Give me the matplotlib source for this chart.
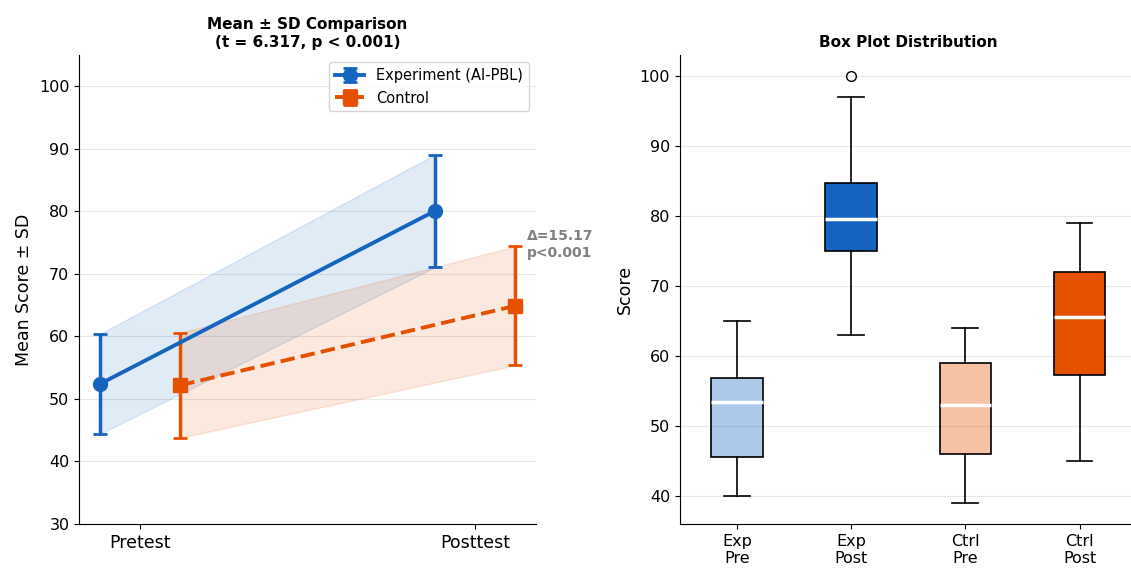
import matplotlib
matplotlib.use("Agg")
import matplotlib.pyplot as plt

# --- data ---
phases = ["Pretest", "Posttest"]
exp_mean = [52.4, 80.07]
exp_sd = [8.0, 9.0]
ctrl_mean = [52.2, 64.9]
ctrl_sd = [8.4, 9.5]

box_labels = ["Exp\nPre", "Exp\nPost", "Ctrl\nPre", "Ctrl\nPost"]
box_low = [40, 63, 39, 45]
box_q1 = [45.5, 75.0, 46.0, 57.2]
box_med = [53.4, 79.6, 53.0, 65.5]
box_q3 = [56.8, 84.7, 59.0, 72.0]
box_high = [65, 97, 64, 79]
box_fliers = [[], [100], [], []]

BLUE = "#1565C0"
ORANGE = "#E65100"
box_colors = [BLUE, BLUE, ORANGE, ORANGE]
box_alpha = [0.35, 1.0, 0.35, 1.0]

fig = plt.figure(figsize=(11.31, 5.68), dpi=100)
ax1 = fig.add_axes([0.070, 0.0775, 0.404, 0.8255])
ax2 = fig.add_axes([0.601, 0.0775, 0.404, 0.8255])

# --- left: mean +- sd ---
off = 0.12
xe = [i - off for i in range(len(phases))]
xc = [i + off for i in range(len(phases))]
ax1.fill_between(xe, [m - s for m, s in zip(exp_mean, exp_sd)],
                 [m + s for m, s in zip(exp_mean, exp_sd)], color=BLUE, alpha=0.13)
ax1.fill_between(xc, [m - s for m, s in zip(ctrl_mean, ctrl_sd)],
                 [m + s for m, s in zip(ctrl_mean, ctrl_sd)], color=ORANGE, alpha=0.13)
ax1.errorbar(xe, exp_mean, yerr=exp_sd, fmt="-o", color=BLUE, lw=2.8, ms=10,
             capsize=5, capthick=2, elinewidth=2.5, label="Experiment (AI-PBL)")
ax1.errorbar(xc, ctrl_mean, yerr=ctrl_sd, fmt="--s", color=ORANGE, lw=2.8, ms=10,
             capsize=5, capthick=2, elinewidth=2.5, label="Control")
delta = exp_mean[1] - ctrl_mean[1]
ax1.text(1 + off + 0.035, ctrl_mean[1] + ctrl_sd[1] + 0.3, f"Δ={delta:.2f}\np<0.001",
         color="gray", fontsize=10, fontweight="bold", va="center", ha="left")
ax1.set_xticks(range(len(phases)))
ax1.set_xticklabels(phases, fontsize=12.5)
ax1.set_ylim(30, 105)
ax1.set_ylabel("Mean Score ± SD", fontsize=12.5)
ax1.set_title("Mean ± SD Comparison\n(t = 6.317, p < 0.001)", fontsize=11, fontweight="bold")
ax1.legend(loc="upper right", fontsize=10.5)
ax1.tick_params(axis="y", labelsize=11.5)

# --- right: box plots ---
stats = []
for i in range(len(box_labels)):
    stats.append({"whislo": box_low[i], "q1": box_q1[i], "med": box_med[i],
                  "q3": box_q3[i], "whishi": box_high[i], "fliers": box_fliers[i]})
bp = ax2.bxp(stats, patch_artist=True,
             medianprops=dict(color="white", lw=2.5),
             boxprops=dict(lw=1.2), whiskerprops=dict(lw=1.2), capprops=dict(lw=1.2),
             flierprops=dict(marker="o", markerfacecolor="none", markeredgecolor="black", ms=7))
for patch, c, a in zip(bp["boxes"], box_colors, box_alpha):
    patch.set_facecolor(matplotlib.colors.to_rgba(c, a))
    patch.set_edgecolor("black")
ax2.set_xticks(range(1, len(box_labels) + 1))
ax2.set_xticklabels(box_labels, fontsize=11.5)
ax2.set_ylabel("Score", fontsize=12.5)
ax2.set_title("Box Plot Distribution", fontsize=11, fontweight="bold")
ax2.tick_params(axis="y", labelsize=11.5)

for ax in (ax1, ax2):
    ax.spines[["top", "right"]].set_visible(False)
    ax.grid(axis="y", alpha=0.3)
    ax.set_axisbelow(True)

plt.savefig("out.png", dpi=100)
